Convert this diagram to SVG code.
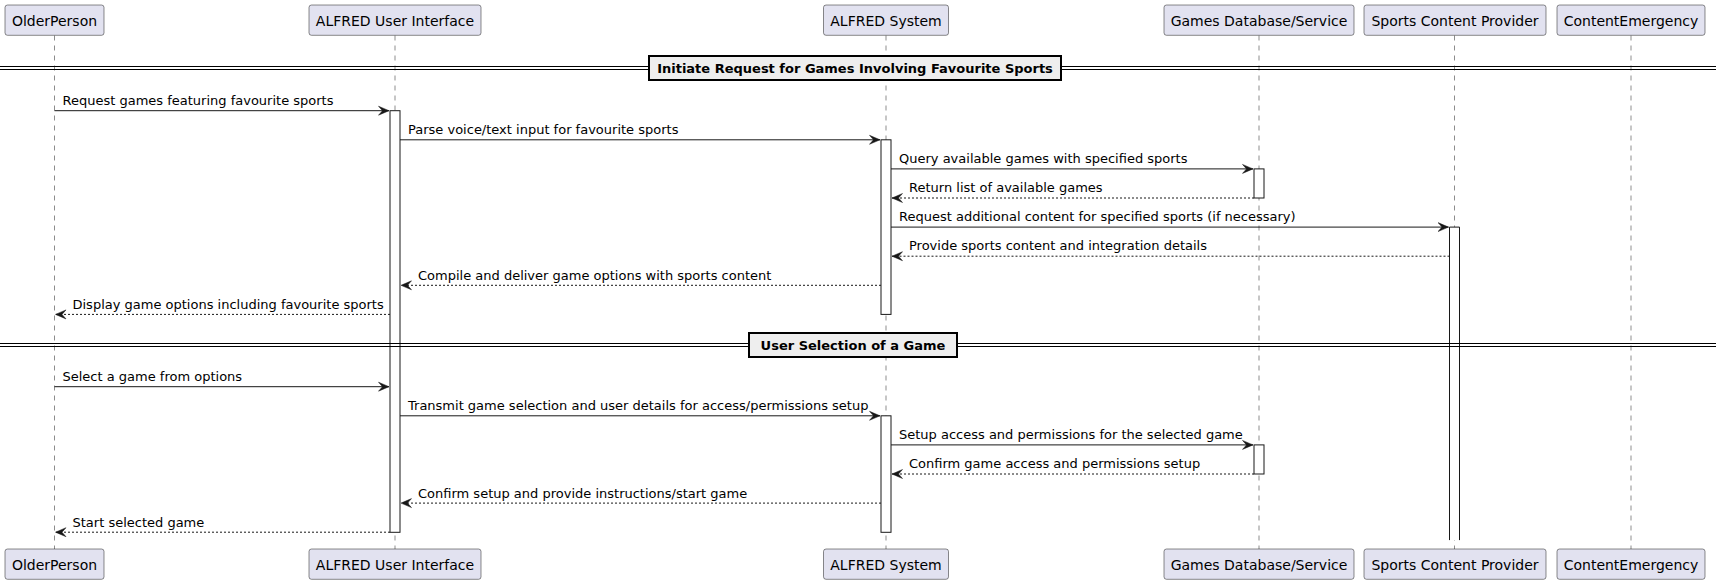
<svg xmlns="http://www.w3.org/2000/svg" width="1716" height="584" viewBox="0 0 1716 584">
<style>
.pbox{fill:#E2E2F0;stroke:#181818;stroke-width:0.5}
.ptxt{font-family:"DejaVu Sans",sans-serif;font-size:14px;fill:#000;text-anchor:middle}
.life{stroke:#181818;stroke-width:0.5;stroke-dasharray:5,5;fill:none}
.act{fill:#FFFFFF;stroke:#181818;stroke-width:1}
.msg{stroke:#181818;stroke-width:1;fill:none}
.ret{stroke:#181818;stroke-width:1;fill:none;stroke-dasharray:2,2}
.mtxt{font-family:"DejaVu Sans",sans-serif;font-size:13px;fill:#000}
.dline{stroke:#000;stroke-width:1.2}
.dbox{fill:#EEEEEE;stroke:#000;stroke-width:2}
.dtxt{font-family:"DejaVu Sans",sans-serif;font-size:13px;font-weight:bold;fill:#000;text-anchor:middle}
</style>
<defs>
<marker id="ah" markerWidth="13" markerHeight="11" refX="11" refY="5.5" orient="auto" markerUnits="userSpaceOnUse">
<polygon points="0.5,1 11,5.5 0.5,10 4.5,5.5" fill="#181818" stroke="#181818" stroke-width="0.5" stroke-linejoin="round"/>
</marker>
</defs>
<g id="lifelines">
<line class="life" x1="54.5" y1="35.5" x2="54.5" y2="549"/>
<line class="life" x1="395" y1="35.5" x2="395" y2="549"/>
<line class="life" x1="886" y1="35.5" x2="886" y2="549"/>
<line class="life" x1="1259" y1="35.5" x2="1259" y2="549"/>
<line class="life" x1="1454.5" y1="35.5" x2="1454.5" y2="549"/>
<line class="life" x1="1631" y1="35.5" x2="1631" y2="549"/>
</g>
<g id="activations">
<rect class="act" x="390" y="110.7" width="10" height="421.6"/>
<rect class="act" x="881" y="139.8" width="10" height="174.6"/>
<rect class="act" x="881" y="415.8" width="10" height="116.5"/>
<rect class="act" x="1254" y="168.9" width="10" height="29.1"/>
<rect class="act" x="1254" y="444.9" width="10" height="29.1"/>
<rect x="1449.5" y="227.1" width="10" height="313" fill="#FFFFFF"/>
<path d="M1449.5,540.1 V227.1 H1459.5 V540.1" fill="none" stroke="#181818" stroke-width="1"/>
</g>
<g id="divider1">
<line class="dline" x1="0" y1="66.5" x2="1716" y2="66.5"/>
<line class="dline" x1="0" y1="69.5" x2="1716" y2="69.5"/>
<rect class="dbox" x="649" y="56" width="412" height="24"/>
<text class="dtxt" x="855" y="72.5">Initiate Request for Games Involving Favourite Sports</text>
</g>
<g id="divider2">
<line class="dline" x1="0" y1="343.5" x2="1716" y2="343.5"/>
<line class="dline" x1="0" y1="346.5" x2="1716" y2="346.5"/>
<rect class="dbox" x="749" y="333" width="208" height="24"/>
<text class="dtxt" x="853" y="349.5">User Selection of a Game</text>
</g>
<g id="connectors">
<line class="msg" x1="54.5" y1="110.7" x2="389" y2="110.7" marker-end="url(#ah)"/>
<text class="mtxt" x="62.5" y="105">Request games featuring favourite sports</text>
<line class="msg" x1="400" y1="139.8" x2="880" y2="139.8" marker-end="url(#ah)"/>
<text class="mtxt" x="408" y="134">Parse voice/text input for favourite sports</text>
<line class="msg" x1="891" y1="168.9" x2="1253" y2="168.9" marker-end="url(#ah)"/>
<text class="mtxt" x="899" y="163">Query available games with specified sports</text>
<line class="ret" x1="1254" y1="198" x2="892" y2="198" marker-end="url(#ah)"/>
<text class="mtxt" x="909" y="192">Return list of available games</text>
<line class="msg" x1="891" y1="227.1" x2="1448.5" y2="227.1" marker-end="url(#ah)"/>
<text class="mtxt" x="899" y="221">Request additional content for specified sports (if necessary)</text>
<line class="ret" x1="1449.5" y1="256.2" x2="892" y2="256.2" marker-end="url(#ah)"/>
<text class="mtxt" x="909" y="250">Provide sports content and integration details</text>
<line class="ret" x1="881" y1="285.3" x2="401" y2="285.3" marker-end="url(#ah)"/>
<text class="mtxt" x="418" y="279.5">Compile and deliver game options with sports content</text>
<line class="ret" x1="390" y1="314.4" x2="55.5" y2="314.4" marker-end="url(#ah)"/>
<text class="mtxt" x="72.5" y="308.5">Display game options including favourite sports</text>
<line class="msg" x1="54.5" y1="386.7" x2="389" y2="386.7" marker-end="url(#ah)"/>
<text class="mtxt" x="62.5" y="381">Select a game from options</text>
<line class="msg" x1="400" y1="415.8" x2="880" y2="415.8" marker-end="url(#ah)"/>
<text class="mtxt" x="408" y="410">Transmit game selection and user details for access/permissions setup</text>
<line class="msg" x1="891" y1="444.9" x2="1253" y2="444.9" marker-end="url(#ah)"/>
<text class="mtxt" x="899" y="439">Setup access and permissions for the selected game</text>
<line class="ret" x1="1254" y1="474" x2="892" y2="474" marker-end="url(#ah)"/>
<text class="mtxt" x="909" y="468">Confirm game access and permissions setup</text>
<line class="ret" x1="881" y1="503.1" x2="401" y2="503.1" marker-end="url(#ah)"/>
<text class="mtxt" x="418" y="497.5">Confirm setup and provide instructions/start game</text>
<line class="ret" x1="390" y1="532.2" x2="55.5" y2="532.2" marker-end="url(#ah)"/>
<text class="mtxt" x="72.5" y="526.5">Start selected game</text>
</g>
<g id="OlderPerson">
<rect class="pbox" x="5" y="5" width="99" height="30.3" rx="2.5"/>
<text class="ptxt" x="54.5" y="25.5">OlderPerson</text>
<rect class="pbox" x="5" y="549" width="99" height="30.3" rx="2.5"/>
<text class="ptxt" x="54.5" y="569.5">OlderPerson</text>
</g>
<g id="ALFREDUserInterface">
<rect class="pbox" x="309" y="5" width="172" height="30.3" rx="2.5"/>
<text class="ptxt" x="395" y="25.5">ALFRED User Interface</text>
<rect class="pbox" x="309" y="549" width="172" height="30.3" rx="2.5"/>
<text class="ptxt" x="395" y="569.5">ALFRED User Interface</text>
</g>
<g id="ALFREDSystem">
<rect class="pbox" x="823.5" y="5" width="125" height="30.3" rx="2.5"/>
<text class="ptxt" x="886" y="25.5">ALFRED System</text>
<rect class="pbox" x="823.5" y="549" width="125" height="30.3" rx="2.5"/>
<text class="ptxt" x="886" y="569.5">ALFRED System</text>
</g>
<g id="GamesDatabaseService">
<rect class="pbox" x="1164" y="5" width="190" height="30.3" rx="2.5"/>
<text class="ptxt" x="1259" y="25.5">Games Database/Service</text>
<rect class="pbox" x="1164" y="549" width="190" height="30.3" rx="2.5"/>
<text class="ptxt" x="1259" y="569.5">Games Database/Service</text>
</g>
<g id="SportsContentProvider">
<rect class="pbox" x="1364" y="5" width="182" height="30.3" rx="2.5"/>
<text class="ptxt" x="1455" y="25.5">Sports Content Provider</text>
<rect class="pbox" x="1364" y="549" width="182" height="30.3" rx="2.5"/>
<text class="ptxt" x="1455" y="569.5">Sports Content Provider</text>
</g>
<g id="ContentEmergency">
<rect class="pbox" x="1557" y="5" width="148" height="30.3" rx="2.5"/>
<text class="ptxt" x="1631" y="25.5">ContentEmergency</text>
<rect class="pbox" x="1557" y="549" width="148" height="30.3" rx="2.5"/>
<text class="ptxt" x="1631" y="569.5">ContentEmergency</text>
</g>
</svg>
